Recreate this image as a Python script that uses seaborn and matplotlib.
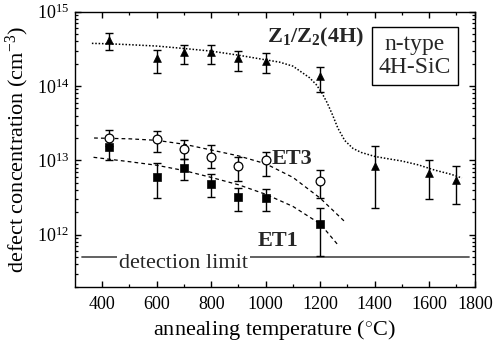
import matplotlib
matplotlib.use("Agg")
import matplotlib.pyplot as plt
from matplotlib.ticker import LogLocator, NullFormatter
import seaborn as sns
import numpy as np

# measured points (annealing temperature in C, concentration in cm^-3)
z_T = [425, 600, 700, 800, 900, 1000, 1200, 1400, 1600, 1700]
z_val = [4.15e14, 2.35e14, 2.9e14, 2.85e14, 2.42e14, 2.15e14, 1.35e14, 8.3e12, 6.8e12, 5.4e12]
z_lo = [3.1e14, 1.5e14, 2.0e14, 2.0e14, 1.6e14, 1.5e14, 8.3e13, 2.3e12, 3.0e12, 2.6e12]
z_hi = [5.2e14, 3.1e14, 3.6e14, 3.6e14, 3.0e14, 2.75e14, 1.8e14, 1.58e13, 1.0e13, 8.3e12]

et3_T = [425, 600, 700, 800, 900, 1000, 1200]
et3_val = [2.02e13, 1.92e13, 1.41e13, 1.12e13, 8.3e12, 1.0e13, 5.2e12]
et3_lo = [1.55e13, 1.31e13, 1.05e13, 8.0e12, 5.2e12, 6.2e12, 3.1e12]
et3_hi = [2.6e13, 2.5e13, 1.88e13, 1.6e13, 1.12e13, 1.31e13, 7.4e12]

et1_T = [425, 600, 700, 800, 900, 1000, 1200]
et1_val = [1.53e13, 6.0e12, 8.0e12, 4.75e12, 3.2e12, 3.1e12, 1.4e12]
et1_lo = [1.0e13, 3.1e12, 5.5e12, 3.2e12, 2.1e12, 2.1e12, 5.1e11]
et1_hi = [2.0e13, 9.1e12, 1.05e13, 6.5e12, 4.2e12, 4.1e12, 2.3e12]

# fit curves
zfit_T = [362, 425, 500, 600, 700, 800, 900, 1000, 1050, 1100, 1130, 1160, 1185, 1205,
          1225, 1245, 1265, 1290, 1320, 1350, 1400, 1450, 1500, 1560, 1620, 1680, 1720]
zfit_val = [3.75e14, 3.7e14, 3.6e14, 3.45e14, 3.2e14, 2.95e14, 2.6e14, 2.25e14, 2.1e14,
            1.85e14, 1.55e14, 1.3e14, 1.05e14, 8.2e13, 6.0e13, 4.1e13, 2.7e13, 1.85e13,
            1.45e13, 1.28e13, 1.13e13, 1.05e13, 9.8e12, 8.7e12, 7.4e12, 6.5e12, 5.8e12]

et3fit_T = [370, 500, 600, 700, 800, 900, 1000, 1100, 1200, 1290]
et3fit_val = [2.0e13, 1.95e13, 1.86e13, 1.65e13, 1.38e13, 1.15e13, 9.0e12, 5.9e12, 3.1e12, 1.5e12]

et1fit_T = [368, 500, 600, 700, 800, 900, 1000, 1100, 1200, 1265]
et1fit_val = [1.1e13, 9.6e12, 8.6e12, 7.3e12, 5.9e12, 4.7e12, 3.5e12, 2.4e12, 1.4e12, 7.3e11]

det_T = [325, 1745]
det_val = [5.0e11, 5.0e11]

x_ticks = [400, 600, 800, 1000, 1200, 1400, 1600]
x_ticklabels = ['400', '600', '800', '1000', '1200', '1400', '1600', '1800']

sns.set_theme(style='ticks')
plt.rcParams['font.family'] = ['Liberation Serif', 'DejaVu Serif']
plt.rcParams['mathtext.fontset'] = 'custom'
plt.rcParams['mathtext.rm'] = 'Liberation Serif'
plt.rcParams['mathtext.it'] = 'Liberation Serif:italic'
plt.rcParams['mathtext.bf'] = 'Liberation Serif:bold'

fig = plt.figure(figsize=(5, 3.44), dpi=100)
ax = fig.add_axes([0.15, 0.1666, 0.8, 0.7994])
ax.set_yscale('log')

def errbars(T, val, lo, hi):
    val = np.array(val)
    yerr = [val - np.array(lo), np.array(hi) - val]
    ax.errorbar(T, val, yerr=yerr, fmt='none', ecolor='black', elinewidth=1.0,
                capsize=2.6, capthick=1.0, zorder=2)

errbars(z_T, z_val, z_lo, z_hi)
errbars(et3_T, et3_val, et3_lo, et3_hi)
errbars(et1_T, et1_val, et1_lo, et1_hi)

sns.lineplot(x=zfit_T, y=zfit_val, ax=ax, color='black', linestyle=(0, (1, 1.2)), lw=1.1, zorder=1)
sns.lineplot(x=et3fit_T, y=et3fit_val, ax=ax, color='black', linestyle=(0, (3, 2.5)), lw=0.9, zorder=1)
sns.lineplot(x=et1fit_T, y=et1fit_val, ax=ax, color='black', linestyle=(0, (3, 2.5)), lw=0.9, zorder=1)
sns.lineplot(x=det_T, y=det_val, ax=ax, color='#555555', lw=1.3, zorder=1)

sns.scatterplot(x=z_T, y=z_val, ax=ax, marker='^', s=32, color='black', edgecolor='black', zorder=3)
sns.scatterplot(x=et3_T, y=et3_val, ax=ax, marker='o', s=40, facecolor='white',
                edgecolor='black', linewidth=0.9, zorder=3)
sns.scatterplot(x=et1_T, y=et1_val, ax=ax, marker='s', s=36, color='black', edgecolor='black', zorder=3)

# axis ends a little short of 1800, the last label sits at the right spine
ax.set_xlim(300, 1768)
ax.set_ylim(2.0e11, 1e15)
ax.set_xticks(x_ticks + [1768])
ax.set_xticklabels(x_ticklabels)
ax.set_xticks(np.arange(500, 1768, 200), minor=True)
ax.set_yticks([1e12, 1e13, 1e14, 1e15])
ax.yaxis.set_minor_locator(LogLocator(base=10, subs=np.arange(2, 10), numticks=20))
ax.yaxis.set_minor_formatter(NullFormatter())

ax.tick_params(which='both', direction='in', top=True, right=True, left=True, bottom=True,
               labelsize=13, color='black', labelcolor='black')
ax.tick_params(axis='x', which='major', pad=7)
ax.tick_params(axis='y', which='major', pad=4)
ax.tick_params(which='major', length=4, width=1.0)
ax.tick_params(which='minor', length=2.5, width=0.9)
for s in ax.spines.values():
    s.set_linewidth(1.0)
    s.set_color('black')

ax.set_xlabel('annealing temperature ($^{\\circ}$C)', fontsize=16, color='black', labelpad=3)
ax.set_ylabel('defect concentration (cm$^{-3}$)', fontsize=16, color='black', labelpad=4)

ax.text(1004, 4.55e14, r'$\mathbf{Z_1/Z_2(4H)}$', fontsize=16, ha='left', va='center')
ax.text(1022, 1.05e13, 'ET3', fontsize=16, fontweight='bold', ha='left', va='center')
ax.text(971, 8.3e11, 'ET1', fontsize=16, fontweight='bold', ha='left', va='center')
ax.text(462, 3.6e11, 'detection limit', fontsize=16, ha='left', va='baseline',
        bbox=dict(facecolor='white', edgecolor='none', pad=1.5), zorder=4)
ax.text(0.85, 0.839, 'n-type\n4H-SiC', transform=ax.transAxes, fontsize=17, ha='center',
        va='center', multialignment='center', linespacing=1.1,
        bbox=dict(boxstyle='square,pad=0.3', facecolor='white', edgecolor='black', linewidth=1.0))

fig.savefig('out.png', dpi=100, facecolor='white')
